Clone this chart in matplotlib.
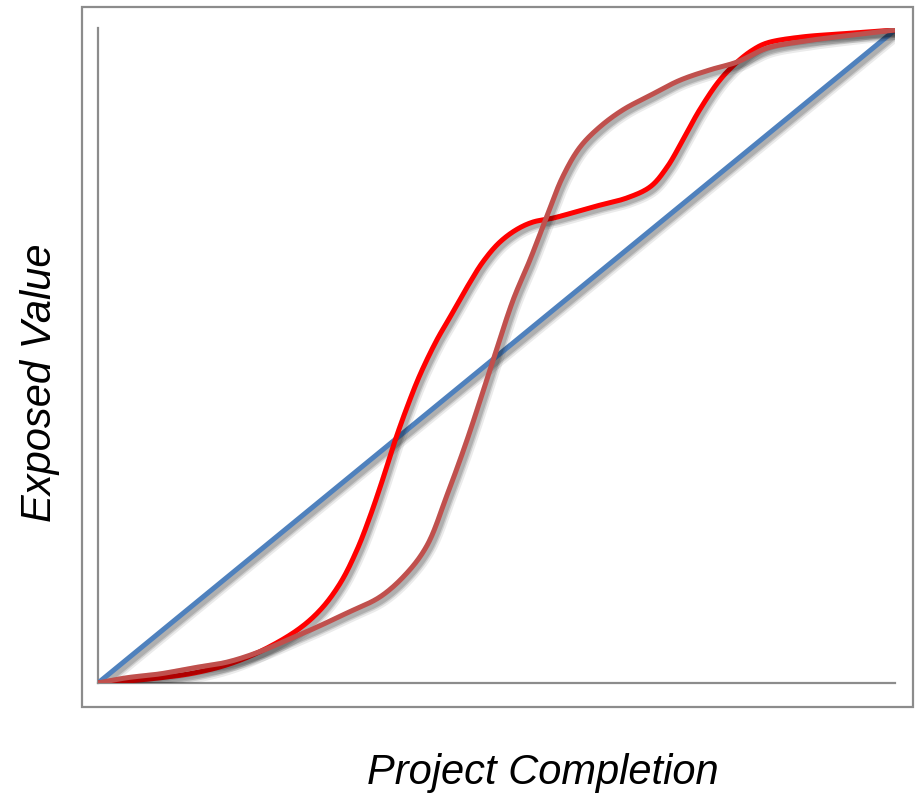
"""Exposed value vs project completion: linear, planned S-curve and actual curve."""
import matplotlib.pyplot as plt
import matplotlib.patheffects as pe
from matplotlib.patches import Rectangle
import numpy as np

plt.rcParams["font.family"] = ["Liberation Sans", "DejaVu Sans"]

# values in % of completion / % of exposed value
linear_x = [0, 100]
linear_y = [0, 100]

planned_x = [0, 3.6, 7.8, 11.9, 16.2, 20.3, 24.5, 27.0, 31.2, 35.4, 38.8, 41.3, 43.8,
             46.3, 49.6, 52.1, 54.2, 56.3, 58.3, 60.5, 63.0, 65.9, 69.3, 73.0, 76.8,
             80.2, 83.9, 88.1, 94.4, 100]
planned_y = [0, 0.8, 1.4, 2.3, 3.2, 4.8, 7.0, 8.3, 10.7, 13.2, 16.9, 21.1, 28.8,
             37.2, 49.5, 58.7, 64.8, 71.4, 77.5, 82.1, 85.2, 87.8, 90.0, 92.3, 93.9,
             95.1, 97.2, 98.2, 99.2, 100]

actual_x = [0, 3.6, 7.8, 11.9, 16.2, 20.3, 25.0, 27.9, 30.4, 32.5, 34.1, 35.7, 37.3,
            38.8, 40.4, 42.5, 44.2, 46.3, 48.3, 50.4, 52.6, 54.6, 57.1, 62.1, 66.4,
            69.3, 71.4, 73.4, 75.5, 78.0, 80.2, 82.1, 83.9, 88.1, 94.4, 100]
actual_y = [0, 0.3, 0.8, 1.5, 2.8, 4.8, 8.1, 11.2, 15.3, 20.4, 25.4, 31.1, 37.2,
            42.3, 47.2, 52.5, 56.1, 60.6, 64.5, 67.5, 69.5, 70.6, 71.2, 72.9, 74.3,
            76.0, 79.0, 83.2, 87.8, 92.3, 95.1, 96.9, 98.0, 98.9, 99.5, 100]

BLUE = "#4F81BD"
BROWN = "#C0504D"
RED = "#FF0000"
FRAME = "#8C8C8C"


def smooth(xs, ys, n=24):
    # centripetal Catmull-Rom, like a smoothed spreadsheet line
    p = np.column_stack([xs, ys]).astype(float)
    p = np.vstack([2 * p[0] - p[1], p, 2 * p[-1] - p[-2]])
    out = []
    for i in range(1, len(p) - 2):
        p0, p1, p2, p3 = p[i - 1], p[i], p[i + 1], p[i + 2]
        t0 = 0.0
        t1 = t0 + np.linalg.norm(p1 - p0) ** 0.5
        t2 = t1 + np.linalg.norm(p2 - p1) ** 0.5
        t3 = t2 + np.linalg.norm(p3 - p2) ** 0.5
        t = np.linspace(t1, t2, n, endpoint=False)[:, None]
        a1 = (t1 - t) / (t1 - t0) * p0 + (t - t0) / (t1 - t0) * p1
        a2 = (t2 - t) / (t2 - t1) * p1 + (t - t1) / (t2 - t1) * p2
        a3 = (t3 - t) / (t3 - t2) * p2 + (t - t2) / (t3 - t2) * p3
        b1 = (t2 - t) / (t2 - t0) * a1 + (t - t0) / (t2 - t0) * a2
        b2 = (t3 - t) / (t3 - t1) * a2 + (t - t1) / (t3 - t1) * a3
        out.append((t2 - t) / (t2 - t1) * b1 + (t - t1) / (t2 - t1) * b2)
    out.append(p[-2][None, :])
    c = np.vstack(out)
    return c[:, 0], c[:, 1]


def shadow():
    return [
        pe.SimpleLineShadow(offset=(2, -2.5), shadow_color="black", alpha=0.08, linewidth=9),
        pe.SimpleLineShadow(offset=(2, -2.5), shadow_color="black", alpha=0.12, linewidth=6),
        pe.SimpleLineShadow(offset=(2, -2.5), shadow_color="black", alpha=0.15, linewidth=4),
        pe.Normal(),
    ]


fig = plt.figure(figsize=(9.16, 7.98), dpi=100)
W, H = 916, 798
ax = fig.add_axes([98 / W, 1 - 683 / H, (895 - 98) / W, (683 - 28) / H])

fig.add_artist(Rectangle((82 / W, 1 - 707 / H), (913 - 82) / W, (707 - 7) / H,
                         transform=fig.transFigure, fill=False,
                         edgecolor=FRAME, linewidth=1.6))

ax.plot(linear_x, linear_y, color=BLUE, linewidth=3.6, solid_capstyle="butt",
        path_effects=shadow(), zorder=3)
ax.plot(*smooth(actual_x, actual_y), color=RED, linewidth=3.6,
        path_effects=shadow(), zorder=4)
ax.plot(*smooth(planned_x, planned_y), color=BROWN, linewidth=3.6,
        path_effects=shadow(), zorder=5)

ax.set_xlim(0, 100)
ax.set_ylim(0, 100 * 655 / 653)
ax.set_xticks([])
ax.set_yticks([])
for side in ["top", "right"]:
    ax.spines[side].set_visible(False)
for side in ["left", "bottom"]:
    ax.spines[side].set_color(FRAME)
    ax.spines[side].set_linewidth(1.6)

fig.text(543 / W, 1 - 773 / H, "Project Completion", ha="center", va="center",
         fontsize=30, style="italic")
fig.text(40 / W, 1 - 383 / H, "Exposed Value", ha="center", va="center",
         rotation=90, fontsize=30, style="italic")

fig.savefig("out.png", dpi=100)
